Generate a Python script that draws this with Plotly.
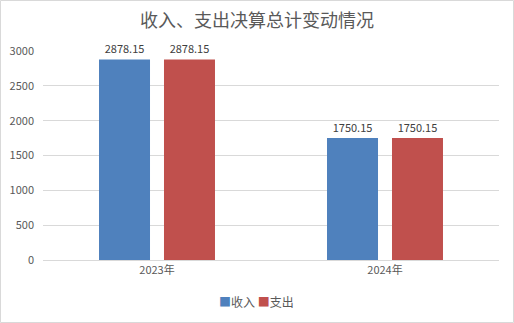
import plotly.graph_objects as go

# Budget summary: final accounts income vs. expenditure by year
years = ["2023年", "2024年"]
income = [2878.15, 1750.15]
expenditure = [2878.15, 1750.15]
series_names = ["收入", "支出"]
series_colors = ["#4F81BD", "#C0504D"]
y_ticks = [0, 500, 1000, 1500, 2000, 2500, 3000]

W, H = 514, 323
ML, MR, MT, MB = 43, 15, 51, 63

font_cn = "Noto Sans CJK SC"

fig = go.Figure()
for name, vals, color in zip(series_names, [income, expenditure], series_colors):
    fig.add_trace(go.Bar(
        x=years, y=vals, name=name,
        marker=dict(color=color, line=dict(width=0)),
        text=[f"{v:.2f}" for v in vals],
        textposition="outside",
        textfont=dict(size=11, color="#404040", family=font_cn),
        cliponaxis=False,
    ))

pw = W - ML - MR
ph = H - MT - MB

# compact legend line below the axis
legend_text = " ".join(
    f"<span style='color:{c}'>■</span>{n}" for n, c in zip(series_names, series_colors)
)

fig.update_layout(
    width=W, height=H,
    margin=dict(l=ML, r=MR, t=MT, b=MB, autoexpand=False),
    paper_bgcolor="white", plot_bgcolor="white",
    barmode="group", bargap=0.43, bargroupgap=0.215,
    title=dict(
        text="收入、支出决算总计变动情况",
        x=0.5, xanchor="center", y=1 - 21 / H, yanchor="middle",
        font=dict(size=18, color="#595959", family=font_cn),
    ),
    font=dict(family=font_cn, color="#595959", size=11),
    showlegend=False,
    annotations=[dict(
        text=legend_text, xref="paper", yref="paper",
        x=(256 - ML) / pw, y=-(301 - MT - ph) / ph,
        xanchor="center", yanchor="middle", showarrow=False,
        font=dict(size=12, color="#595959", family=font_cn),
    )],
    xaxis=dict(
        showgrid=False, showline=True, linecolor="#D9D9D9", linewidth=1,
        ticks="", tickfont=dict(size=11, color="#595959"), automargin=False,
    ),
    yaxis=dict(
        range=[0, 3000], tickvals=y_ticks,
        showgrid=True, gridcolor="#D9D9D9", gridwidth=1,
        zeroline=False, showline=False, ticks="",
        tickfont=dict(size=11, color="#595959"),
        ticklabelstandoff=8, automargin=False,
    ),
    shapes=[dict(
        type="rect", xref="paper", yref="paper",
        x0=-(ML - 0.5) / pw, x1=1 + (MR - 0.5) / pw,
        y0=-(MB - 0.5) / ph, y1=1 + (MT - 0.5) / ph,
        line=dict(color="#D9D9D9", width=1), fillcolor="rgba(0,0,0,0)",
        layer="below",
    )],
)

fig.write_html("out.html")
